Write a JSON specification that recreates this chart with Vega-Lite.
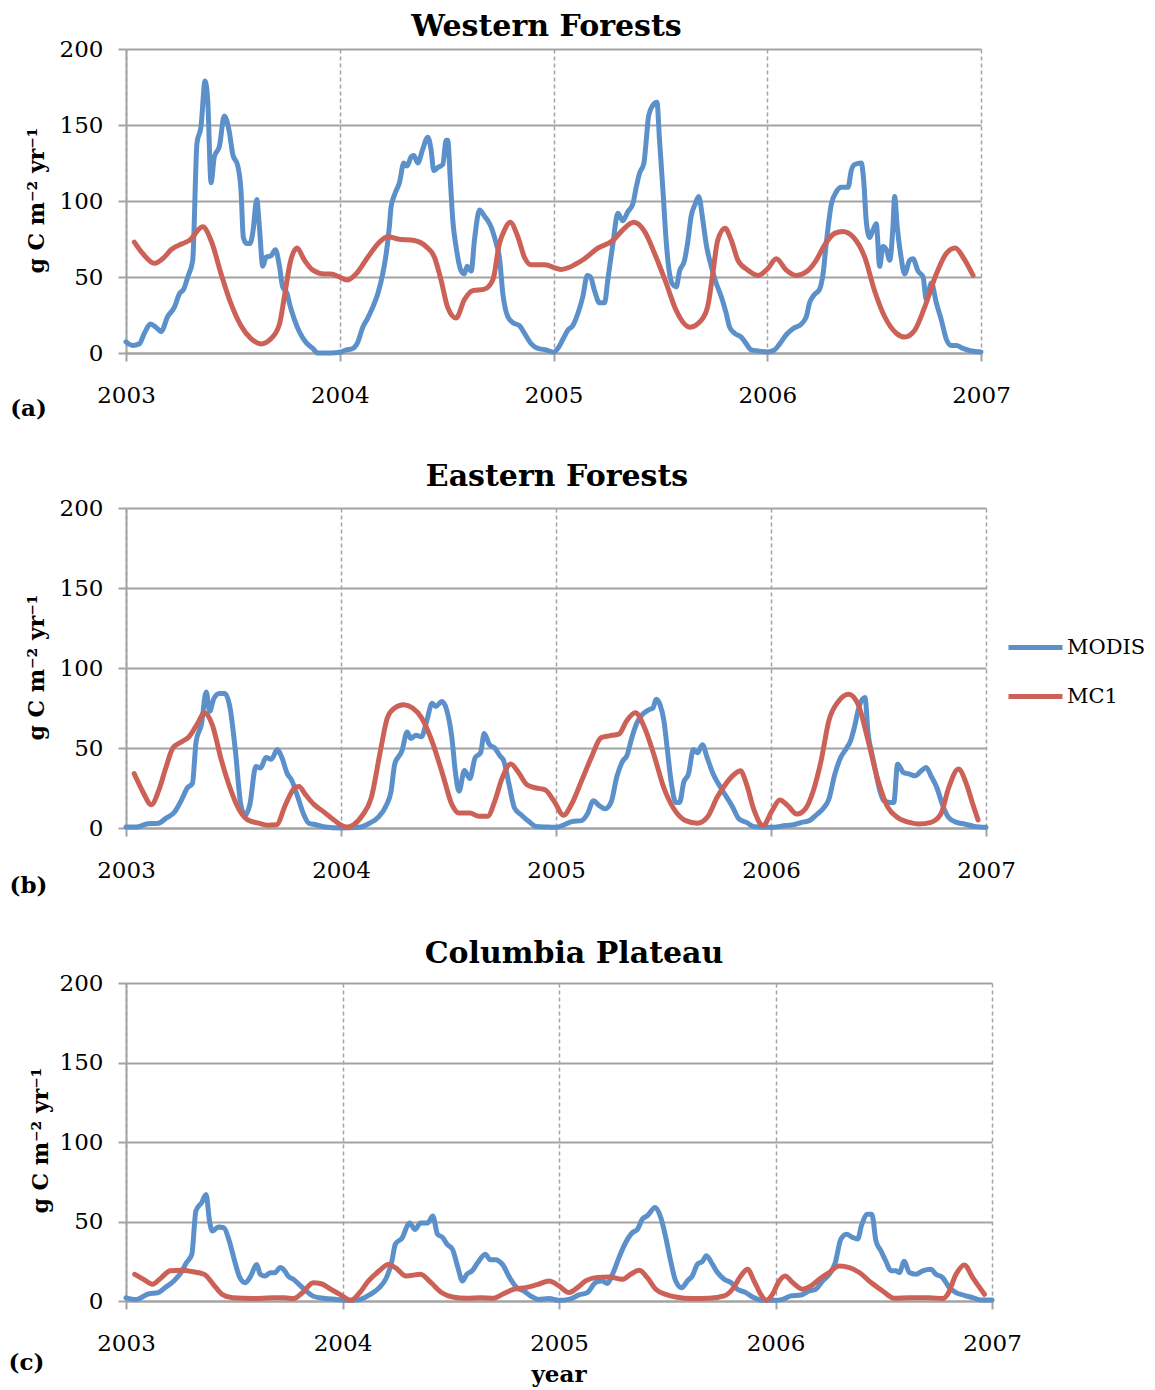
{
  "$schema": "https://vega.github.io/schema/vega-lite/v6.json",
  "background": "white",
  "padding": {"left": 8, "top": 12, "right": 10, "bottom": 2},
  "spacing": 155,
  "bounds": "flush",
  "resolve": {"legend": {"color": "independent"}},
  "config": {
    "font": "DejaVu Serif",
    "view": {"stroke": null},
    "axis": {
      "labelFont": "DejaVu Serif", "labelFontSize": 23, "labelColor": "black",
      "titleFont": "DejaVu Serif", "titleColor": "black", "titleFontWeight": "bold",
      "domainColor": "#a3a3a3", "domainWidth": 2, "tickColor": "#a3a3a3", "tickWidth": 2, "tickSize": 8,
      "gridColor": "#a3a3a3", "gridOpacity": 1
    },
    "line": {"interpolate": "monotone", "strokeWidth": 5, "strokeCap": "round", "strokeJoin": "round"},
    "title": {"font": "DejaVu Serif", "fontSize": 30, "fontWeight": "bold", "color": "black", "baseline": "alphabetic", "frame": "group"}
  },
  "datasets": {
    "a_modis": [
      {"year":2003.000,"value":7.3},{"year":2003.031,"value":5},{"year":2003.062,"value":6},{"year":2003.086,"value":13},{"year":2003.114,"value":19},{"year":2003.140,"value":17},{"year":2003.164,"value":14},{"year":2003.195,"value":24},{"year":2003.226,"value":30},{"year":2003.250,"value":39},{"year":2003.270,"value":42},{"year":2003.289,"value":50},{"year":2003.312,"value":61},{"year":2003.332,"value":138},{"year":2003.351,"value":149},{"year":2003.370,"value":179},{"year":2003.382,"value":167},{"year":2003.398,"value":112},{"year":2003.413,"value":129},{"year":2003.437,"value":136},{"year":2003.460,"value":156},{"year":2003.484,"value":145},{"year":2003.499,"value":131},{"year":2003.523,"value":123},{"year":2003.538,"value":107},{"year":2003.549,"value":76},{"year":2003.565,"value":72},{"year":2003.580,"value":72},{"year":2003.593,"value":79},{"year":2003.612,"value":101},{"year":2003.624,"value":83},{"year":2003.640,"value":57},{"year":2003.655,"value":63},{"year":2003.679,"value":64},{"year":2003.699,"value":68},{"year":2003.718,"value":57},{"year":2003.733,"value":43.5},{"year":2003.754,"value":39},{"year":2003.764,"value":33},{"year":2003.788,"value":22},{"year":2003.811,"value":14},{"year":2003.842,"value":7},{"year":2003.874,"value":3},{"year":2003.897,"value":0},{"year":2003.928,"value":0},{"year":2003.959,"value":0},{"year":2004.000,"value":0.5},{"year":2004.030,"value":2},{"year":2004.061,"value":3},{"year":2004.084,"value":7},{"year":2004.108,"value":17},{"year":2004.131,"value":23},{"year":2004.154,"value":30},{"year":2004.178,"value":39},{"year":2004.201,"value":52},{"year":2004.217,"value":65},{"year":2004.232,"value":83},{"year":2004.240,"value":96},{"year":2004.256,"value":104},{"year":2004.279,"value":112},{"year":2004.300,"value":125},{"year":2004.315,"value":123},{"year":2004.334,"value":129},{"year":2004.346,"value":130},{"year":2004.365,"value":125},{"year":2004.388,"value":134},{"year":2004.412,"value":142},{"year":2004.427,"value":134},{"year":2004.440,"value":120},{"year":2004.459,"value":122},{"year":2004.482,"value":124},{"year":2004.498,"value":140},{"year":2004.505,"value":140},{"year":2004.518,"value":112},{"year":2004.529,"value":87},{"year":2004.544,"value":70},{"year":2004.568,"value":54},{"year":2004.583,"value":52},{"year":2004.596,"value":57},{"year":2004.615,"value":54},{"year":2004.630,"value":74},{"year":2004.654,"value":94},{"year":2004.677,"value":90},{"year":2004.693,"value":87},{"year":2004.708,"value":83},{"year":2004.732,"value":72},{"year":2004.747,"value":63},{"year":2004.763,"value":39},{"year":2004.786,"value":24},{"year":2004.810,"value":20},{"year":2004.841,"value":18},{"year":2004.864,"value":13},{"year":2004.896,"value":6},{"year":2004.927,"value":3},{"year":2004.966,"value":2},
      {"year":2005.000,"value":0.5},{"year":2005.020,"value":3},{"year":2005.044,"value":9},{"year":2005.067,"value":15},{"year":2005.090,"value":18},{"year":2005.114,"value":26},{"year":2005.137,"value":37},{"year":2005.158,"value":51},{"year":2005.173,"value":50},{"year":2005.192,"value":41},{"year":2005.215,"value":33},{"year":2005.239,"value":33},{"year":2005.254,"value":48},{"year":2005.278,"value":72},{"year":2005.301,"value":92},{"year":2005.324,"value":87},{"year":2005.348,"value":93},{"year":2005.371,"value":98},{"year":2005.387,"value":109},{"year":2005.402,"value":118},{"year":2005.423,"value":125},{"year":2005.434,"value":140},{"year":2005.445,"value":156},{"year":2005.465,"value":163},{"year":2005.484,"value":165},{"year":2005.496,"value":140},{"year":2005.512,"value":107},{"year":2005.527,"value":74},{"year":2005.543,"value":52},{"year":2005.558,"value":45},{"year":2005.574,"value":43.5},{"year":2005.590,"value":54},{"year":2005.613,"value":61},{"year":2005.629,"value":74},{"year":2005.644,"value":90},{"year":2005.663,"value":98},{"year":2005.679,"value":103},{"year":2005.699,"value":87},{"year":2005.714,"value":72},{"year":2005.738,"value":57},{"year":2005.761,"value":46},{"year":2005.785,"value":37},{"year":2005.808,"value":26},{"year":2005.824,"value":17},{"year":2005.847,"value":13},{"year":2005.878,"value":10.5},{"year":2005.902,"value":6},{"year":2005.925,"value":2},{"year":2005.956,"value":1.3},{"year":2006.000,"value":0.7},{"year":2006.034,"value":2},{"year":2006.058,"value":6},{"year":2006.089,"value":12},{"year":2006.120,"value":16},{"year":2006.159,"value":19},{"year":2006.183,"value":24},{"year":2006.198,"value":33},{"year":2006.218,"value":38},{"year":2006.245,"value":42},{"year":2006.261,"value":52},{"year":2006.276,"value":72},{"year":2006.300,"value":98},{"year":2006.323,"value":106},{"year":2006.346,"value":109},{"year":2006.378,"value":109},{"year":2006.393,"value":120},{"year":2006.409,"value":124},{"year":2006.440,"value":125},{"year":2006.452,"value":112},{"year":2006.463,"value":87},{"year":2006.479,"value":76},{"year":2006.495,"value":81},{"year":2006.510,"value":85},{"year":2006.526,"value":57},{"year":2006.541,"value":70},{"year":2006.557,"value":68},{"year":2006.573,"value":61},{"year":2006.588,"value":83},{"year":2006.596,"value":103},{"year":2006.608,"value":83},{"year":2006.624,"value":65},{"year":2006.643,"value":52},{"year":2006.666,"value":61},{"year":2006.682,"value":62},{"year":2006.705,"value":54},{"year":2006.729,"value":50},{"year":2006.744,"value":35},{"year":2006.768,"value":46},{"year":2006.791,"value":33},{"year":2006.814,"value":22},{"year":2006.838,"value":9},{"year":2006.861,"value":5},{"year":2006.885,"value":5},{"year":2006.916,"value":3},{"year":2006.955,"value":1.3},{"year":2007.000,"value":0.7}
    ],
    "a_mc1": [
      {"year":2003.039,"value":73},{"year":2003.078,"value":65.5},{"year":2003.133,"value":59},{"year":2003.179,"value":63},{"year":2003.211,"value":68},{"year":2003.265,"value":72},{"year":2003.296,"value":74},{"year":2003.359,"value":83},{"year":2003.398,"value":74},{"year":2003.445,"value":52},{"year":2003.491,"value":32.5},{"year":2003.538,"value":18},{"year":2003.585,"value":9.5},{"year":2003.632,"value":6},{"year":2003.679,"value":9.5},{"year":2003.718,"value":19},{"year":2003.741,"value":37},{"year":2003.769,"value":60},{"year":2003.800,"value":69},{"year":2003.835,"value":61},{"year":2003.874,"value":54.5},{"year":2003.928,"value":52},{"year":2003.959,"value":52},{"year":2003.998,"value":50},{"year":2004.034,"value":48},{"year":2004.076,"value":52},{"year":2004.131,"value":63},{"year":2004.186,"value":73},{"year":2004.225,"value":76.5},{"year":2004.271,"value":75},{"year":2004.349,"value":74},{"year":2004.404,"value":70},{"year":2004.443,"value":63},{"year":2004.474,"value":48},{"year":2004.505,"value":30},{"year":2004.544,"value":23},{"year":2004.583,"value":35},{"year":2004.622,"value":41},{"year":2004.677,"value":42},{"year":2004.716,"value":48},{"year":2004.747,"value":72},{"year":2004.771,"value":81},{"year":2004.797,"value":86},{"year":2004.833,"value":76.5},{"year":2004.864,"value":63},{"year":2004.896,"value":58},{"year":2004.958,"value":58},
      {"year":2005.036,"value":55},{"year":2005.098,"value":58},{"year":2005.145,"value":62},{"year":2005.207,"value":69},{"year":2005.278,"value":74},{"year":2005.324,"value":81},{"year":2005.376,"value":86},{"year":2005.426,"value":80},{"year":2005.473,"value":65.5},{"year":2005.527,"value":46},{"year":2005.574,"value":28},{"year":2005.637,"value":17},{"year":2005.691,"value":21.5},{"year":2005.722,"value":31},{"year":2005.745,"value":52},{"year":2005.768,"value":74},{"year":2005.803,"value":82},{"year":2005.832,"value":74},{"year":2005.863,"value":61},{"year":2005.910,"value":54.5},{"year":2005.959,"value":51},{"year":2006.003,"value":55.6},{"year":2006.042,"value":62},{"year":2006.089,"value":54.5},{"year":2006.136,"value":51},{"year":2006.183,"value":53.4},{"year":2006.229,"value":61},{"year":2006.268,"value":71},{"year":2006.315,"value":78.7},{"year":2006.354,"value":80},{"year":2006.401,"value":76.5},{"year":2006.456,"value":63},{"year":2006.502,"value":41},{"year":2006.549,"value":24},{"year":2006.604,"value":13},{"year":2006.643,"value":10.5},{"year":2006.690,"value":15},{"year":2006.736,"value":30},{"year":2006.791,"value":52},{"year":2006.838,"value":65.5},{"year":2006.880,"value":69},{"year":2006.916,"value":63},{"year":2006.963,"value":51}
    ],
    "b_modis": [
      {"year":2003.000,"value":0.6},{"year":2003.052,"value":0.6},{"year":2003.101,"value":2.7},{"year":2003.151,"value":3},{"year":2003.185,"value":6},{"year":2003.226,"value":10},{"year":2003.260,"value":18},{"year":2003.285,"value":25},{"year":2003.309,"value":28},{"year":2003.326,"value":54},{"year":2003.351,"value":65},{"year":2003.373,"value":85},{"year":2003.389,"value":73},{"year":2003.409,"value":81},{"year":2003.434,"value":84},{"year":2003.459,"value":84},{"year":2003.484,"value":75},{"year":2003.509,"value":48},{"year":2003.534,"value":14.6},{"year":2003.554,"value":8},{"year":2003.576,"value":14.6},{"year":2003.604,"value":38.5},{"year":2003.626,"value":37.5},{"year":2003.651,"value":44},{"year":2003.676,"value":43},{"year":2003.704,"value":49},{"year":2003.725,"value":44},{"year":2003.750,"value":34},{"year":2003.770,"value":30},{"year":2003.800,"value":19},{"year":2003.825,"value":9},{"year":2003.850,"value":3},{"year":2003.884,"value":2},{"year":2003.925,"value":0.6},{"year":2004.000,"value":0},{"year":2004.083,"value":0.4},{"year":2004.133,"value":3},{"year":2004.175,"value":7},{"year":2004.208,"value":13.5},{"year":2004.233,"value":23},{"year":2004.250,"value":40},{"year":2004.283,"value":48},{"year":2004.308,"value":60},{"year":2004.324,"value":56},{"year":2004.349,"value":58},{"year":2004.374,"value":57},{"year":2004.399,"value":67},{"year":2004.424,"value":78},{"year":2004.441,"value":76},{"year":2004.469,"value":79},{"year":2004.491,"value":74},{"year":2004.516,"value":56},{"year":2004.532,"value":35},{"year":2004.549,"value":23},{"year":2004.574,"value":36},{"year":2004.599,"value":31},{"year":2004.624,"value":44},{"year":2004.649,"value":47},{"year":2004.666,"value":59},{"year":2004.691,"value":52},{"year":2004.715,"value":50},{"year":2004.740,"value":45},{"year":2004.757,"value":42},{"year":2004.782,"value":27},{"year":2004.807,"value":12.5},{"year":2004.840,"value":8},{"year":2004.874,"value":4},{"year":2004.907,"value":1},{"year":2004.965,"value":0.6},
      {"year":2005.000,"value":0.4},{"year":2005.046,"value":2.5},{"year":2005.073,"value":4},{"year":2005.119,"value":4.6},{"year":2005.146,"value":8.7},{"year":2005.174,"value":17},{"year":2005.201,"value":14},{"year":2005.228,"value":12},{"year":2005.256,"value":16},{"year":2005.283,"value":32},{"year":2005.311,"value":42},{"year":2005.329,"value":45},{"year":2005.353,"value":56.5},{"year":2005.374,"value":65},{"year":2005.402,"value":71},{"year":2005.433,"value":74},{"year":2005.451,"value":75},{"year":2005.466,"value":80.5},{"year":2005.484,"value":77},{"year":2005.502,"value":67},{"year":2005.517,"value":50},{"year":2005.535,"value":29.5},{"year":2005.557,"value":16},{"year":2005.575,"value":16},{"year":2005.594,"value":28.5},{"year":2005.616,"value":33.7},{"year":2005.639,"value":49},{"year":2005.658,"value":47},{"year":2005.681,"value":52},{"year":2005.703,"value":44},{"year":2005.731,"value":33.7},{"year":2005.758,"value":27},{"year":2005.795,"value":19},{"year":2005.822,"value":13},{"year":2005.849,"value":6},{"year":2005.886,"value":3.5},{"year":2005.922,"value":0.8},{"year":2006.000,"value":0.4},{"year":2006.068,"value":1.5},{"year":2006.105,"value":2},{"year":2006.142,"value":3.5},{"year":2006.178,"value":4.6},{"year":2006.215,"value":8.7},{"year":2006.242,"value":12},{"year":2006.269,"value":18},{"year":2006.297,"value":33.7},{"year":2006.324,"value":44},{"year":2006.352,"value":50},{"year":2006.370,"value":54.5},{"year":2006.388,"value":63},{"year":2006.406,"value":74},{"year":2006.425,"value":80.5},{"year":2006.437,"value":81.5},{"year":2006.452,"value":58.6},{"year":2006.470,"value":46},{"year":2006.489,"value":33.7},{"year":2006.507,"value":23},{"year":2006.525,"value":17},{"year":2006.553,"value":16},{"year":2006.571,"value":16},{"year":2006.589,"value":40},{"year":2006.616,"value":34.7},{"year":2006.644,"value":33.7},{"year":2006.671,"value":32.6},{"year":2006.699,"value":35.8},{"year":2006.722,"value":37.8},{"year":2006.744,"value":32.6},{"year":2006.772,"value":25},{"year":2006.799,"value":14},{"year":2006.826,"value":6.6},{"year":2006.863,"value":3.5},{"year":2006.900,"value":2.5},{"year":2006.945,"value":1},{"year":2007.000,"value":0.4}
    ],
    "b_mc1": [
      {"year":2003.038,"value":34},{"year":2003.077,"value":23},{"year":2003.118,"value":14.6},{"year":2003.151,"value":23},{"year":2003.185,"value":37.5},{"year":2003.218,"value":50},{"year":2003.260,"value":54},{"year":2003.293,"value":57},{"year":2003.334,"value":65.6},{"year":2003.364,"value":72},{"year":2003.401,"value":64.6},{"year":2003.443,"value":42.7},{"year":2003.484,"value":25},{"year":2003.526,"value":11.5},{"year":2003.567,"value":5},{"year":2003.617,"value":3},{"year":2003.659,"value":1.7},{"year":2003.700,"value":2},{"year":2003.742,"value":14.6},{"year":2003.784,"value":25},{"year":2003.804,"value":26},{"year":2003.834,"value":21},{"year":2003.875,"value":14.6},{"year":2003.917,"value":10.4},{"year":2003.967,"value":5},{"year":2004.025,"value":0.6},{"year":2004.058,"value":2},{"year":2004.100,"value":8},{"year":2004.141,"value":19},{"year":2004.183,"value":48},{"year":2004.216,"value":69},{"year":2004.250,"value":75},{"year":2004.291,"value":77},{"year":2004.333,"value":75},{"year":2004.374,"value":69},{"year":2004.424,"value":54},{"year":2004.474,"value":33},{"year":2004.516,"value":14.6},{"year":2004.549,"value":9.4},{"year":2004.599,"value":9.4},{"year":2004.641,"value":7.3},{"year":2004.682,"value":7.3},{"year":2004.715,"value":16.7},{"year":2004.749,"value":31},{"year":2004.790,"value":40},{"year":2004.824,"value":35},{"year":2004.865,"value":27},{"year":2004.907,"value":25},{"year":2004.948,"value":24},{"year":2004.990,"value":17},{"year":2005.035,"value":8},
      {"year":2005.073,"value":15},{"year":2005.119,"value":29.5},{"year":2005.164,"value":44},{"year":2005.210,"value":56.5},{"year":2005.247,"value":57.6},{"year":2005.292,"value":58.6},{"year":2005.329,"value":67},{"year":2005.369,"value":72},{"year":2005.411,"value":63},{"year":2005.457,"value":45},{"year":2005.502,"value":25},{"year":2005.548,"value":12},{"year":2005.603,"value":4.6},{"year":2005.658,"value":3},{"year":2005.703,"value":6.6},{"year":2005.749,"value":19},{"year":2005.795,"value":28.5},{"year":2005.831,"value":33.7},{"year":2005.858,"value":35.8},{"year":2005.886,"value":27.4},{"year":2005.922,"value":10.8},{"year":2005.963,"value":1.5},{"year":2006.005,"value":10.8},{"year":2006.041,"value":17.5},{"year":2006.078,"value":14},{"year":2006.120,"value":8.7},{"year":2006.160,"value":12},{"year":2006.196,"value":23},{"year":2006.233,"value":42},{"year":2006.269,"value":67},{"year":2006.315,"value":79.4},{"year":2006.361,"value":83.6},{"year":2006.406,"value":77},{"year":2006.452,"value":54.5},{"year":2006.498,"value":29.5},{"year":2006.543,"value":13},{"year":2006.589,"value":6.6},{"year":2006.644,"value":3.5},{"year":2006.689,"value":2.5},{"year":2006.744,"value":3.5},{"year":2006.790,"value":8.7},{"year":2006.826,"value":25},{"year":2006.872,"value":36.8},{"year":2006.909,"value":27.4},{"year":2006.936,"value":16},{"year":2006.963,"value":5}
    ],
    "c_modis": [
      {"year":2003.000,"value":2},{"year":2003.048,"value":1},{"year":2003.106,"value":4.6},{"year":2003.147,"value":5.2},{"year":2003.180,"value":8.4},{"year":2003.221,"value":12.6},{"year":2003.254,"value":17.8},{"year":2003.279,"value":24},{"year":2003.304,"value":29.4},{"year":2003.323,"value":56.7},{"year":2003.350,"value":62},{"year":2003.370,"value":67},{"year":2003.386,"value":50},{"year":2003.399,"value":44},{"year":2003.427,"value":46.6},{"year":2003.452,"value":46},{"year":2003.477,"value":37.8},{"year":2003.502,"value":25},{"year":2003.526,"value":14.7},{"year":2003.551,"value":11.5},{"year":2003.576,"value":15.7},{"year":2003.604,"value":23},{"year":2003.620,"value":16.8},{"year":2003.642,"value":15.7},{"year":2003.667,"value":17.8},{"year":2003.686,"value":17.8},{"year":2003.713,"value":21},{"year":2003.733,"value":19},{"year":2003.749,"value":15.7},{"year":2003.774,"value":13.6},{"year":2003.799,"value":10.5},{"year":2003.832,"value":6.3},{"year":2003.865,"value":3},{"year":2003.914,"value":1.7},{"year":2003.972,"value":1},{"year":2004.021,"value":0.4},{"year":2004.079,"value":1},{"year":2004.129,"value":4.2},{"year":2004.170,"value":8.4},{"year":2004.203,"value":14.7},{"year":2004.228,"value":25},{"year":2004.244,"value":35.7},{"year":2004.277,"value":40},{"year":2004.302,"value":48},{"year":2004.310,"value":49},{"year":2004.335,"value":45},{"year":2004.360,"value":49},{"year":2004.393,"value":49},{"year":2004.417,"value":53.5},{"year":2004.439,"value":42},{"year":2004.462,"value":40},{"year":2004.483,"value":35.7},{"year":2004.508,"value":32.5},{"year":2004.533,"value":21},{"year":2004.554,"value":12.6},{"year":2004.574,"value":16.8},{"year":2004.599,"value":19},{"year":2004.624,"value":24},{"year":2004.660,"value":29.4},{"year":2004.682,"value":26},{"year":2004.706,"value":26},{"year":2004.739,"value":23},{"year":2004.772,"value":14.7},{"year":2004.805,"value":8.4},{"year":2004.838,"value":6.3},{"year":2004.871,"value":3},{"year":2004.904,"value":1},{"year":2004.954,"value":1.5},
      {"year":2005.000,"value":0.4},{"year":2005.046,"value":1},{"year":2005.092,"value":3.8},{"year":2005.131,"value":5.3},{"year":2005.169,"value":11.6},{"year":2005.200,"value":12.6},{"year":2005.223,"value":11},{"year":2005.247,"value":16.8},{"year":2005.277,"value":27.3},{"year":2005.308,"value":36.8},{"year":2005.339,"value":43},{"year":2005.362,"value":45},{"year":2005.385,"value":51.5},{"year":2005.408,"value":53.6},{"year":2005.444,"value":58.8},{"year":2005.470,"value":52.5},{"year":2005.493,"value":40},{"year":2005.516,"value":25},{"year":2005.539,"value":12.6},{"year":2005.567,"value":8.4},{"year":2005.593,"value":12.6},{"year":2005.616,"value":15.8},{"year":2005.639,"value":23},{"year":2005.663,"value":25},{"year":2005.681,"value":28.4},{"year":2005.709,"value":23},{"year":2005.732,"value":17.9},{"year":2005.763,"value":13.7},{"year":2005.794,"value":11.6},{"year":2005.824,"value":7.4},{"year":2005.863,"value":5.3},{"year":2005.894,"value":2.5},{"year":2005.940,"value":0.4},{"year":2006.000,"value":0.4},{"year":2006.032,"value":1},{"year":2006.071,"value":3.2},{"year":2006.117,"value":3.8},{"year":2006.156,"value":6.3},{"year":2006.186,"value":7.4},{"year":2006.217,"value":12.6},{"year":2006.248,"value":16.8},{"year":2006.276,"value":24},{"year":2006.302,"value":39},{"year":2006.328,"value":42},{"year":2006.356,"value":40},{"year":2006.379,"value":39},{"year":2006.399,"value":48.3},{"year":2006.425,"value":54.6},{"year":2006.445,"value":54.6},{"year":2006.464,"value":37.8},{"year":2006.487,"value":31.5},{"year":2006.510,"value":25},{"year":2006.533,"value":19},{"year":2006.556,"value":19},{"year":2006.572,"value":17.9},{"year":2006.595,"value":25},{"year":2006.618,"value":17.9},{"year":2006.649,"value":16.8},{"year":2006.680,"value":19},{"year":2006.718,"value":20},{"year":2006.741,"value":16.8},{"year":2006.772,"value":14.7},{"year":2006.803,"value":8.4},{"year":2006.834,"value":5.3},{"year":2006.872,"value":3.6},{"year":2006.911,"value":2.1},{"year":2006.949,"value":0.6},{"year":2007.000,"value":0.6}
    ],
    "c_mc1": [
      {"year":2003.040,"value":16.8},{"year":2003.081,"value":13.6},{"year":2003.122,"value":10.5},{"year":2003.163,"value":14.7},{"year":2003.205,"value":19},{"year":2003.254,"value":19.3},{"year":2003.304,"value":18.5},{"year":2003.361,"value":16.8},{"year":2003.403,"value":10.5},{"year":2003.444,"value":4.2},{"year":2003.493,"value":2},{"year":2003.584,"value":1.5},{"year":2003.683,"value":2},{"year":2003.733,"value":2},{"year":2003.774,"value":1.5},{"year":2003.815,"value":5.2},{"year":2003.865,"value":11.5},{"year":2003.898,"value":11},{"year":2003.947,"value":7.3},{"year":2003.988,"value":4.2},{"year":2004.038,"value":0.4},{"year":2004.079,"value":5.2},{"year":2004.120,"value":12.6},{"year":2004.170,"value":19},{"year":2004.211,"value":23},{"year":2004.244,"value":21},{"year":2004.294,"value":15.7},{"year":2004.360,"value":16.8},{"year":2004.409,"value":11.5},{"year":2004.459,"value":5.2},{"year":2004.508,"value":2.5},{"year":2004.574,"value":1.7},{"year":2004.640,"value":2},{"year":2004.698,"value":1.7},{"year":2004.739,"value":4.2},{"year":2004.789,"value":7.3},{"year":2004.847,"value":8.4},{"year":2004.904,"value":10.5},{"year":2004.954,"value":12.6},
      {"year":2005.000,"value":9.5},{"year":2005.046,"value":5.3},{"year":2005.085,"value":8.4},{"year":2005.123,"value":12.6},{"year":2005.169,"value":14.7},{"year":2005.231,"value":15.1},{"year":2005.293,"value":13.7},{"year":2005.331,"value":16.8},{"year":2005.370,"value":19.3},{"year":2005.408,"value":14.7},{"year":2005.447,"value":7.4},{"year":2005.493,"value":4.2},{"year":2005.539,"value":2.5},{"year":2005.616,"value":1.5},{"year":2005.693,"value":1.7},{"year":2005.763,"value":3.2},{"year":2005.801,"value":7.4},{"year":2005.840,"value":15.8},{"year":2005.871,"value":20},{"year":2005.901,"value":12.6},{"year":2005.932,"value":4.2},{"year":2005.958,"value":0.4},{"year":2005.986,"value":4.2},{"year":2006.017,"value":12.6},{"year":2006.045,"value":15.8},{"year":2006.079,"value":11.6},{"year":2006.125,"value":7.4},{"year":2006.163,"value":9.5},{"year":2006.202,"value":13.7},{"year":2006.248,"value":17.9},{"year":2006.294,"value":22},{"year":2006.341,"value":21},{"year":2006.387,"value":17.9},{"year":2006.441,"value":11.6},{"year":2006.495,"value":6.3},{"year":2006.549,"value":1.7},{"year":2006.618,"value":2.1},{"year":2006.710,"value":2.1},{"year":2006.772,"value":1.5},{"year":2006.795,"value":4.2},{"year":2006.834,"value":16.8},{"year":2006.872,"value":22.7},{"year":2006.911,"value":14.7},{"year":2006.965,"value":4.2}
    ],
    "c_label": [{"label": "year", "year": 2005, "value": 0}]
  },
  "vconcat": [
    {
      "width": 855, "height": 304,
      "title": {"text": "Western Forests", "offset": 0, "dy": 4, "dx": -7},
      "encoding": {
        "x": {"field": "year", "type": "quantitative", "scale": {"domain": [2003, 2007], "nice": false, "zero": false},
              "axis": {"values": [2003, 2004, 2005, 2006, 2007], "format": "d", "grid": true, "gridDash": [4, 3], "gridWidth": 1.5, "labelPadding": 23, "labelFlush": false,
                       "title": "(a)", "titleFontSize": 23, "titleX": -98, "titleY": 55, "titleAlign": "center", "titleBaseline": "middle", "titleAngle": 0}},
        "y": {"field": "value", "type": "quantitative", "scale": {"domain": [0, 200], "nice": false},
              "axis": {"values": [0, 50, 100, 150, 200], "grid": true, "gridWidth": 2, "labelPadding": 15,
                       "title": "g C m⁻² yr⁻¹", "titleFontSize": 22, "titleX": -90, "titleY": 151, "titleAlign": "center", "titleBaseline": "middle", "titleAngle": -90}}
      },
      "layer": [
        {"data": {"name": "a_modis"}, "mark": "line",
         "encoding": {"color": {"datum": "MODIS", "type": "nominal", "scale": {"domain": ["MODIS", "MC1"], "range": ["#5B90CA", "#CC6158"]}, "legend": null}}},
        {"data": {"name": "a_mc1"}, "mark": "line",
         "encoding": {"color": {"datum": "MC1", "type": "nominal", "legend": null}}}
      ]
    },
    {
      "width": 860, "height": 320,
      "title": {"text": "Eastern Forests", "offset": 0, "dy": -5, "dx": 1},
      "encoding": {
        "x": {"field": "year", "type": "quantitative", "scale": {"domain": [2003, 2007], "nice": false, "zero": false},
              "axis": {"values": [2003, 2004, 2005, 2006, 2007], "format": "d", "grid": true, "gridDash": [4, 3], "gridWidth": 1.5, "labelPadding": 23, "labelFlush": false,
                       "title": "(b)", "titleFontSize": 23, "titleX": -98, "titleY": 57, "titleAlign": "center", "titleBaseline": "middle", "titleAngle": 0}},
        "y": {"field": "value", "type": "quantitative", "scale": {"domain": [0, 200], "nice": false},
              "axis": {"values": [0, 50, 100, 150, 200], "grid": true, "gridWidth": 2, "labelPadding": 15,
                       "title": "g C m⁻² yr⁻¹", "titleFontSize": 22, "titleX": -90, "titleY": 159, "titleAlign": "center", "titleBaseline": "middle", "titleAngle": -90}}
      },
      "layer": [
        {"data": {"name": "b_modis"}, "mark": "line",
         "encoding": {"color": {"datum": "MODIS", "type": "nominal", "scale": {"domain": ["MODIS", "MC1"], "range": ["#5B90CA", "#CC6158"]},
           "legend": {"orient": "none", "legendX": 880, "legendY": 110, "title": null, "symbolType": "stroke", "symbolSize": 2916, "symbolStrokeWidth": 5,
                      "labelFont": "DejaVu Serif", "labelFontSize": 21, "labelColor": "black", "labelOffset": 2, "rowPadding": 9, "padding": 0}}}},
        {"data": {"name": "b_mc1"}, "mark": "line",
         "encoding": {"color": {"datum": "MC1", "type": "nominal"}}}
      ]
    },
    {
      "width": 866, "height": 318,
      "title": {"text": "Columbia Plateau", "offset": 0, "dy": -3, "dx": 15},
      "encoding": {
        "x": {"field": "year", "type": "quantitative", "scale": {"domain": [2003, 2007], "nice": false, "zero": false},
              "axis": {"values": [2003, 2004, 2005, 2006, 2007], "format": "d", "grid": true, "gridDash": [4, 3], "gridWidth": 1.5, "labelPadding": 23, "labelFlush": false,
                       "title": "(c)", "titleFontSize": 23, "titleX": -100, "titleY": 61, "titleAlign": "center", "titleBaseline": "middle", "titleAngle": 0}},
        "y": {"field": "value", "type": "quantitative", "scale": {"domain": [0, 200], "nice": false},
              "axis": {"values": [0, 50, 100, 150, 200], "grid": true, "gridWidth": 2, "labelPadding": 15,
                       "title": "g C m⁻² yr⁻¹", "titleFontSize": 22, "titleX": -86, "titleY": 157, "titleAlign": "center", "titleBaseline": "middle", "titleAngle": -90}}
      },
      "layer": [
        {"data": {"name": "c_modis"}, "mark": "line",
         "encoding": {"color": {"datum": "MODIS", "type": "nominal", "scale": {"domain": ["MODIS", "MC1"], "range": ["#5B90CA", "#CC6158"]}, "legend": null}}},
        {"data": {"name": "c_mc1"}, "mark": "line",
         "encoding": {"color": {"datum": "MC1", "type": "nominal", "legend": null}}},
        {"data": {"name": "c_label"}, "mark": {"type": "text", "font": "DejaVu Serif", "fontSize": 23, "fontWeight": "bold", "fill": "black", "dy": 74, "baseline": "middle", "align": "center"},
         "encoding": {"text": {"field": "label", "type": "nominal"}}}
      ]
    }
  ]
}
